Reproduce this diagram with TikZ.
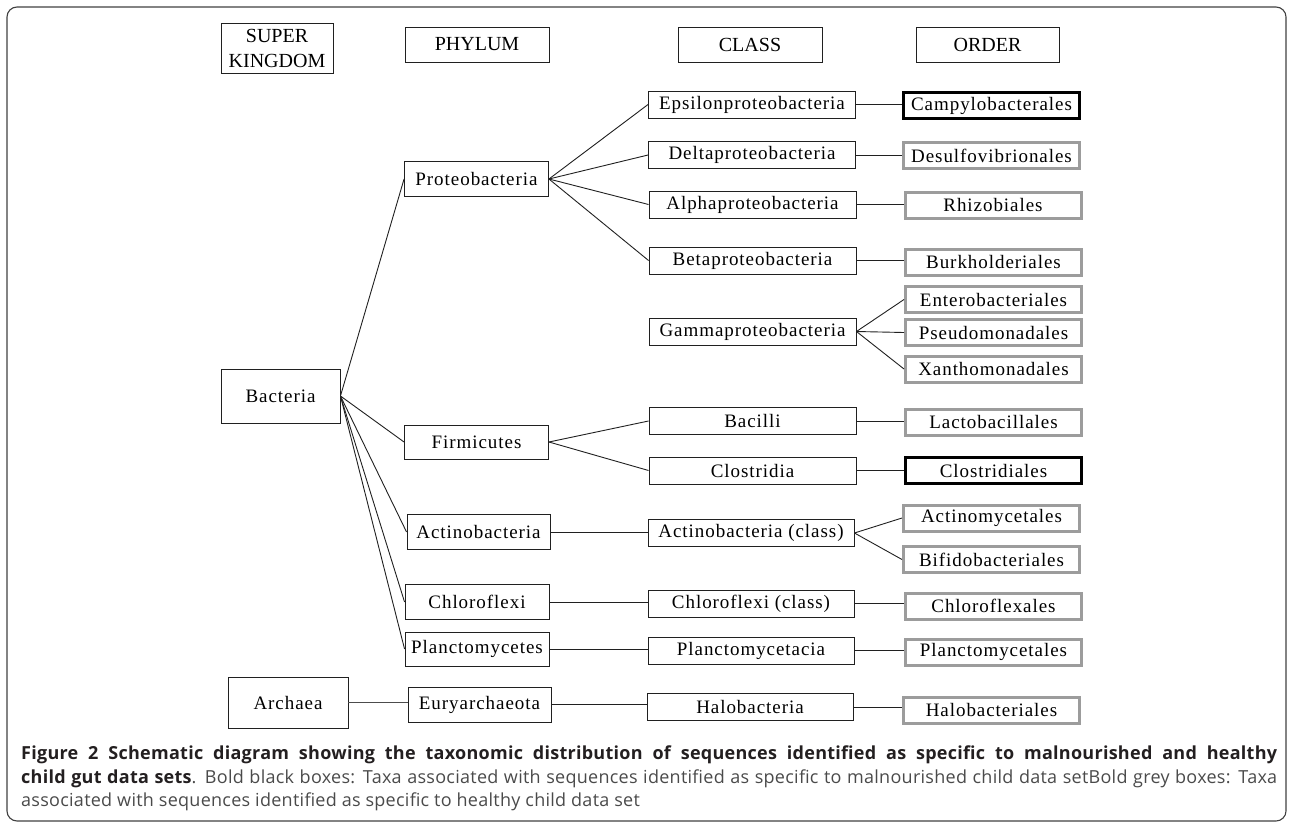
\documentclass[tikz,border=0pt]{standalone}
\usepackage{fontspec}
\setmainfont{Liberation Serif}
\newfontfamily\boxfont[LetterSpace=5]{Liberation Serif}
\newfontfamily\capfont[LetterSpace=1.5]{Open Sans}
\definecolor{greybox}{HTML}{9C9C9C}
\definecolor{capdark}{HTML}{231F20}
\definecolor{capgrey}{HTML}{4A4A4A}
\definecolor{lineblk}{HTML}{202020}
\begin{document}
\begin{tikzpicture}[x=1pt,y=-1pt,
  hdr/.style={draw=lineblk, line width=0.9pt, inner sep=0pt, align=center,
    font=\fontsize{20}{25}\selectfont},
  phybox/.style={draw=lineblk, line width=0.9pt, inner sep=0pt,
    minimum width=144pt, minimum height=35pt, font=\boxfont\fontsize{19}{22}\selectfont},
  clsbox/.style={draw=lineblk, line width=0.9pt, inner sep=0pt,
    minimum width=207pt, minimum height=27pt, font=\boxfont\fontsize{19}{22}\selectfont},
  ordgrey/.style={draw=greybox, line width=3pt, inner sep=0pt,
    minimum width=176pt, minimum height=26pt, font=\boxfont\fontsize{19}{22}\selectfont},
  ordblack/.style={ordgrey, draw=black},
  conn/.style={draw=lineblk, line width=0.9pt},
  capline/.style={anchor=base west, inner sep=0pt, font=\capfont\fontsize{18}{22}\selectfont}
]
\useasboundingbox (0,0) rectangle (1292,827);
\draw[draw=black!75, line width=1.1pt, rounded corners=10pt] (7,7) rectangle (1286,821);

% headers
\node[hdr, minimum width=112pt, minimum height=50pt] (sk) at (277,48) {SUPER\\KINGDOM};
\node[hdr, minimum width=144pt, minimum height=35pt] (hphy) at (477,44.5) {PHYLUM};
\node[hdr, minimum width=144pt, minimum height=35pt] (hcls) at (750,44.5) {CLASS};
\node[hdr, minimum width=143pt, minimum height=35pt] (hord) at (987.5,44.5) {ORDER};

% super kingdom
\node[phybox, minimum width=119pt, minimum height=54pt] (bac) at (280.5,396) {Bacteria};
\node[phybox, minimum width=120pt, minimum height=51pt] (arc) at (288,702.5) {Archaea};

% phylum
\node[phybox] (pro) at (476.5,179) {Proteobacteria};
\node[phybox, minimum height=34pt] (fir) at (476.5,442) {Firmicutes};
\node[phybox, minimum width=143pt] (act) at (478.5,532) {Actinobacteria};
\node[phybox] (chl) at (477,602) {Chloroflexi};
\node[phybox, minimum height=34pt] (pla) at (477,649) {Planctomycetes};
\node[phybox, minimum width=143pt] (eur) at (479.5,704.5) {Euryarchaeota};

% class
\node[clsbox] (eps) at (752,104.5) {Epsilonproteobacteria};
\node[clsbox] (del) at (752,155) {Deltaproteobacteria};
\node[clsbox] (alp) at (752.5,204.5) {Alphaproteobacteria};
\node[clsbox] (bet) at (752.5,260.5) {Betaproteobacteria};
\node[clsbox] (gam) at (752.5,331.5) {Gammaproteobacteria};
\node[clsbox] (bci) at (752.5,421) {Bacilli};
\node[clsbox] (clo) at (752.5,470.5) {Clostridia};
\node[clsbox, minimum width=206pt] (acc) at (751,533) {Actinobacteria (class)};
\node[clsbox, minimum width=206pt] (chc) at (751,603.5) {Chloroflexi (class)};
\node[clsbox, minimum width=206pt] (plc) at (751,650.5) {Planctomycetacia};
\node[clsbox, minimum width=206pt] (hal) at (750,707) {Halobacteria};

% order
\node[ordblack] (cam) at (991.5,105.5) {Campylobacterales};
\node[ordgrey] (des) at (991.5,155.5) {Desulfovibrionales};
\node[ordgrey] (rhi) at (993,205) {Rhizobiales};
\node[ordgrey] (bur) at (993.5,262) {Burkholderiales};
\node[ordgrey] (ent) at (993.5,299.5) {Enterobacteriales};
\node[ordgrey] (pse) at (993.5,332.5) {Pseudomonadales};
\node[ordgrey] (xan) at (993.5,369) {Xanthomonadales};
\node[ordgrey] (lac) at (993.5,422) {Lactobacillales};
\node[ordblack] (cld) at (993.5,470.5) {Clostridiales};
\node[ordgrey] (acm) at (991.5,518) {Actinomycetales};
\node[ordgrey] (bif) at (991.5,559.5) {Bifidobacteriales};
\node[ordgrey] (chx) at (993.5,606) {Chloroflexales};
\node[ordgrey] (plx) at (993.5,652) {Planctomycetales};
\node[ordgrey] (hax) at (991.5,710) {Halobacteriales};

% connectors: super kingdom -> phylum
\foreach \t in {pro,fir,act,chl,pla} \draw[conn] (bac.east) -- (\t.west);
\draw[conn, draw=black!70] (arc.east) -- (arc.east -| eur.west);

% phylum -> class
\foreach \t in {eps,del,alp,bet} \draw[conn] (pro.east) -- (\t.west);
\foreach \t in {bci,clo} \draw[conn] (fir.east) -- (\t.west);
\draw[conn] (act.east) -- (act.east -| acc.west);
\draw[conn] (chl.east) -- (chl.east -| chc.west);
\draw[conn] (pla.east) -- (pla.east -| plc.west);
\draw[conn] (eur.east) -- (eur.east -| hal.west);

% class -> order
\draw[conn] (eps.east) -- (eps.east -| cam.west);
\draw[conn] (del.east) -- (del.east -| des.west);
\draw[conn] (alp.east) -- (alp.east -| rhi.west);
\draw[conn] (bet.east) -- (bet.east -| bur.west);
\foreach \t in {ent,pse,xan} \draw[conn] (gam.east) -- (\t.west);
\draw[conn] (bci.east) -- (bci.east -| lac.west);
\draw[conn] (clo.east) -- (clo.east -| cld.west);
\foreach \t in {acm,bif} \draw[conn] (acc.east) -- (\t.west);
\draw[conn] (chc.east) -- (chc.east -| chx.west);
\draw[conn] (plc.east) -- (plc.east -| plx.west);
\draw[conn] (hal.east) -- (hal.east -| hax.west);

% caption
\node[capline, text=capdark] (cap1) at (21,759) {\makebox[1256pt][s]{\bfseries Figure 2 Schematic diagram showing the taxonomic distribution of sequences identified as specific to malnourished and healthy}};
\node[capline, text=capgrey] (cap2) at (21,783) {\makebox[1256pt][s]{{\bfseries\color{capdark}child gut data sets}. Bold black boxes: Taxa associated with sequences identified as specific to malnourished child data setBold grey boxes: Taxa}};
\node[capline, text=capgrey] (cap3) at (21,806) {associated with sequences identified as specific to healthy child data set};
\end{tikzpicture}
\end{document}
